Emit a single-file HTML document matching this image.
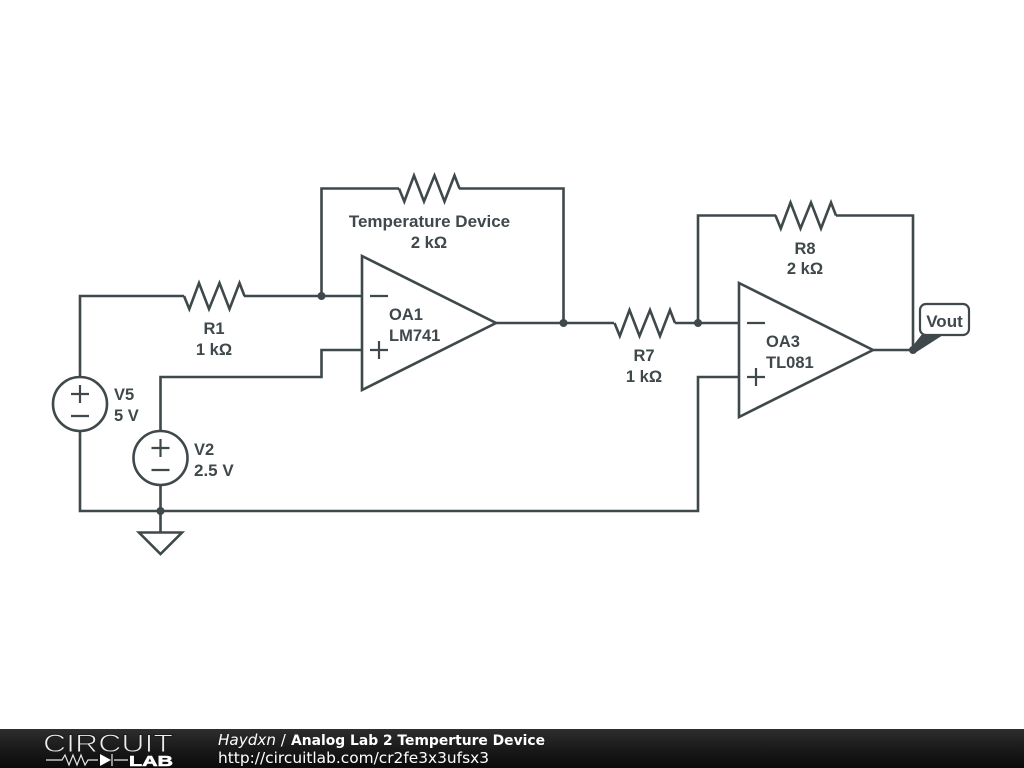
<!DOCTYPE html>
<html>
<head>
<meta charset="utf-8">
<style>
html,body{margin:0;padding:0;background:#fff;width:1024px;height:768px;overflow:hidden}
svg{display:block}
</style>
</head>
<body>
<svg width="1024" height="768" viewBox="0 0 1024 768" xmlns="http://www.w3.org/2000/svg">
<defs>
<linearGradient id="bar" x1="0" y1="0" x2="0" y2="1">
<stop offset="0" stop-color="#2e2e2e"/>
<stop offset="0.5" stop-color="#1a1a1a"/>
<stop offset="1" stop-color="#0a0a0a"/>
</linearGradient>
<path id="res" d="M0 0L5.300 13L15 -13L25 13L35.500 -13L45.500 13L55.500 -13L60.500 0"/>
</defs>
<rect width="1024" height="768" fill="#fff"/>
<g fill="none" stroke="#3f484b" stroke-width="2.600" stroke-linejoin="miter" stroke-linecap="butt">
<!-- wires -->
<path d="M80 377V296H184"/>
<path d="M244 296H362"/>
<path d="M321.500 296V188.500H399"/>
<path d="M459 188.500H563.500V323"/>
<path d="M496 323H614"/>
<path d="M675 323H739"/>
<path d="M698 323V215.500H776"/>
<path d="M836 215.500H913V350"/>
<path d="M873 350H913"/>
<path d="M160.500 431V377H321.500V350H362"/>
<path d="M80 431V511H698V377H739"/>
<path d="M160.500 485V532"/>
<!-- resistors -->
<use href="#res" x="184" y="296"/>
<use href="#res" x="399" y="188.500"/>
<use href="#res" x="614.500" y="323"/>
<use href="#res" x="775.500" y="215.500"/>
<!-- op amps -->
<path d="M362 256L496 323L362 390Z"/>
<path d="M739 283L873 350L739 417Z"/>
<path d="M370 296H388M379 341V359M370 350H388" stroke-width="2.200"/>
<path d="M747 323H765M756 368V386M747 377H765" stroke-width="2.200"/>
<!-- sources -->
<circle cx="80" cy="404" r="27"/>
<circle cx="160.500" cy="458" r="27"/>
<path d="M71 394H89M80 385V403M71 416H89" stroke-width="2.200"/>
<path d="M151.500 448H169.500M160.500 439V457M151.500 470H169.500" stroke-width="2.200"/>
<!-- ground -->
<path d="M139 532.500H182L160.500 554Z"/>
</g>
<g fill="#3f484b">
<circle cx="321.500" cy="296" r="4"/>
<circle cx="563.500" cy="323" r="4"/>
<circle cx="698" cy="323" r="4"/>
<circle cx="913" cy="350" r="4"/>
<circle cx="160.500" cy="511" r="4"/>
<path d="M911 348L923 333L943 335L915 353Z"/>
</g>
<rect x="920" y="304" width="49" height="31" rx="6" ry="6" fill="#fff" stroke="#3f484b" stroke-width="2.200"/>
<g font-family="'Liberation Sans',sans-serif" font-weight="bold" font-size="16.500px" fill="#3f484b">
<text x="944.500" y="327" font-size="17px" text-anchor="middle">Vout</text>
<text x="214" y="334" text-anchor="middle">R1</text>
<text x="214" y="355" text-anchor="middle">1 kΩ</text>
<text x="429.500" y="227" font-size="17px" text-anchor="middle">Temperature Device</text>
<text x="429" y="248" text-anchor="middle">2 kΩ</text>
<text x="644" y="361" text-anchor="middle">R7</text>
<text x="644" y="382" text-anchor="middle">1 kΩ</text>
<text x="805" y="254" text-anchor="middle">R8</text>
<text x="805" y="274" text-anchor="middle">2 kΩ</text>
<text x="389" y="320">OA1</text>
<text x="389" y="341">LM741</text>
<text x="766" y="347">OA3</text>
<text x="766" y="368">TL081</text>
<text x="114" y="400">V5</text>
<text x="114" y="421">5 V</text>
<text x="194" y="455">V2</text>
<text x="194" y="476" font-size="17px">2.5 V</text>
</g>
<!-- footer -->
<rect x="0" y="729" width="1024" height="39" fill="url(#bar)"/>
<text x="43" y="752" font-family="'Liberation Sans',sans-serif" font-size="25px" fill="#eeeeee" stroke="#1c1c1c" stroke-width="0.900" textLength="130" lengthAdjust="spacingAndGlyphs">CIRCUIT</text>
<path d="M46 760H62L65 755L69 765L73 755L77 765L81 755L85 765L88 760H98M114 760H128M112 754V766" fill="none" stroke="#e6e6e6" stroke-width="1.200"/>
<path d="M100 754L111 760L100 766Z" fill="#fff"/>
<text x="129" y="766" font-family="'Liberation Sans',sans-serif" font-weight="bold" font-size="15px" fill="#fff" stroke="#fff" stroke-width="0.600" textLength="44" lengthAdjust="spacingAndGlyphs">LAB</text>
<text x="218" y="745" font-family="'DejaVu Sans',sans-serif" font-size="15.200px" fill="#fff"><tspan font-style="oblique">Haydxn</tspan> /</text>
<text x="291" y="745" font-family="'DejaVu Sans',sans-serif" font-size="14px" font-weight="bold" fill="#fff" textLength="254" lengthAdjust="spacingAndGlyphs">Analog Lab 2 Temperture Device</text>
<text x="218" y="763" font-family="'DejaVu Sans',sans-serif" font-size="15.300px" fill="#fff" textLength="271" lengthAdjust="spacingAndGlyphs">http://circuitlab.com/cr2fe3x3ufsx3</text>
</svg>
</body>
</html>
